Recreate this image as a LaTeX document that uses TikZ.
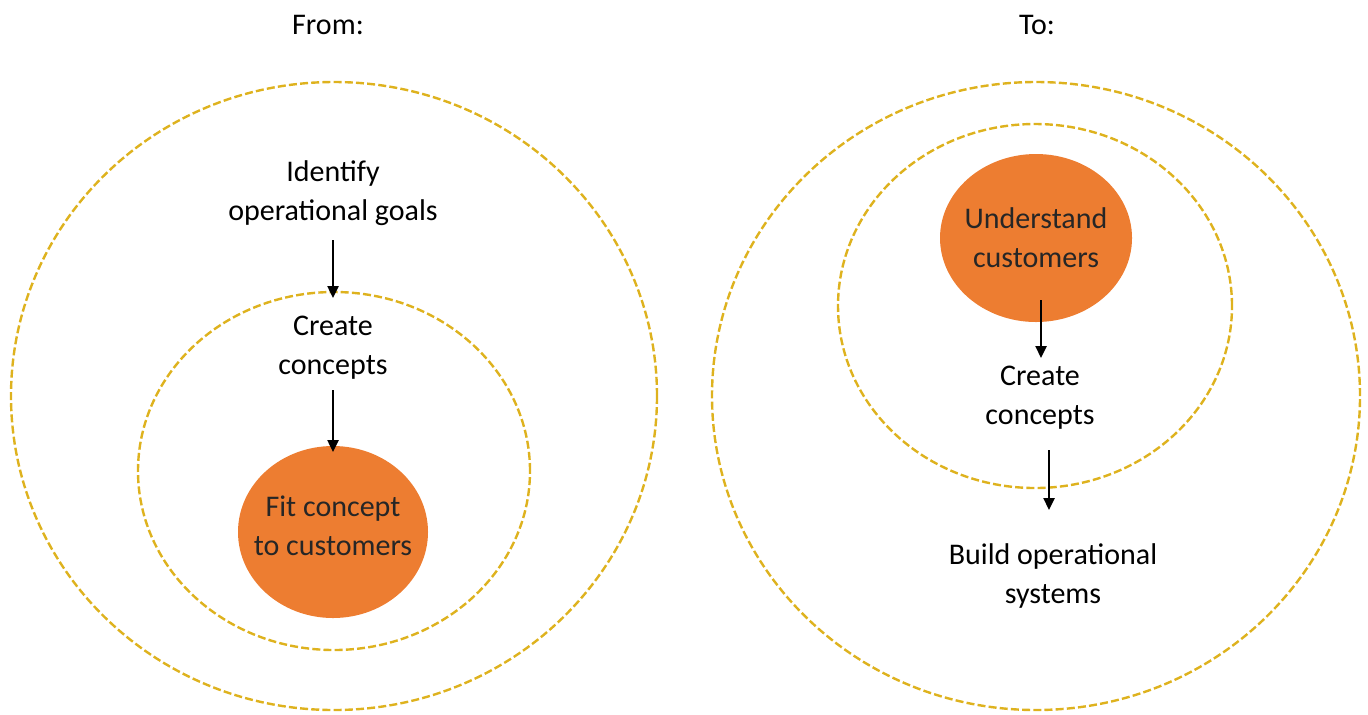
\documentclass[tikz,border=0pt]{standalone}
\usepackage{fontspec}
\setmainfont{Carlito}
\usetikzlibrary{shapes.geometric,arrows.meta}
\definecolor{ringcol}{RGB}{222,178,30}
\definecolor{orangefill}{RGB}{237,125,49}
\begin{document}
\begin{tikzpicture}[x=0.5pt,y=-0.5pt,
  ring/.style={ellipse,draw=ringcol,line width=1.2pt,dash pattern=on 4pt off 1.6pt,inner sep=0pt},
  blob/.style={ellipse,fill=orangefill,inner sep=0pt},
  lbl/.style={align=center,font=\fontsize{15}{19.5}\selectfont,text=black},
  arr/.style={-{Triangle[length=6pt,width=5.5pt]},line width=1.2pt,black}]
\useasboundingbox (0,0) rectangle (1368,714);
% titles
\node[lbl] (from) at (328,25) {From:};
\node[lbl] (to) at (1037,25) {To:};
% left side
\node[ring,minimum width=323pt,minimum height=314pt] (Lout) at (334,396) {};
\node[ring,minimum width=196pt,minimum height=179pt] (Lin) at (334,471) {};
\node[blob,minimum width=95pt,minimum height=86pt] (Lblob) at (333,532) {};
\node[lbl] (goals) at (333,193) {Identify\\operational goals};
\node[lbl] (Lconc) at (333,348) {Create\\concepts};
\node[lbl,text=black!85] (fit) at (333,526) {Fit concept\\to customers};
\coordinate (a1s) at (333,240);
\coordinate (a1e) at (333,298);
\coordinate (a2s) at (333,390);
\coordinate (a2e) at (333,452);
\draw[arr] (a1s) -- (a1e);
\draw[arr] (a2s) -- (a2e);
% right side
\node[ring,minimum width=324pt,minimum height=314pt] (Rout) at (1036,396) {};
\node[ring,minimum width=197pt,minimum height=182pt] (Rin) at (1035,306) {};
\node[blob,minimum width=96pt,minimum height=84pt] (Rblob) at (1036,238) {};
\node[lbl,text=black!85] (und) at (1036,238) {Understand\\customers};
\node[lbl] (Rconc) at (1040,398) {Create\\concepts};
\node[lbl] (build) at (1053,576) {Build operational\\systems};
\coordinate (b1s) at (1041,300);
\coordinate (b1e) at (1041,358);
\coordinate (b2s) at (1049,450);
\coordinate (b2e) at (1049,510);
\draw[arr] (b1s) -- (b1e);
\draw[arr] (b2s) -- (b2e);
\end{tikzpicture}
\end{document}
